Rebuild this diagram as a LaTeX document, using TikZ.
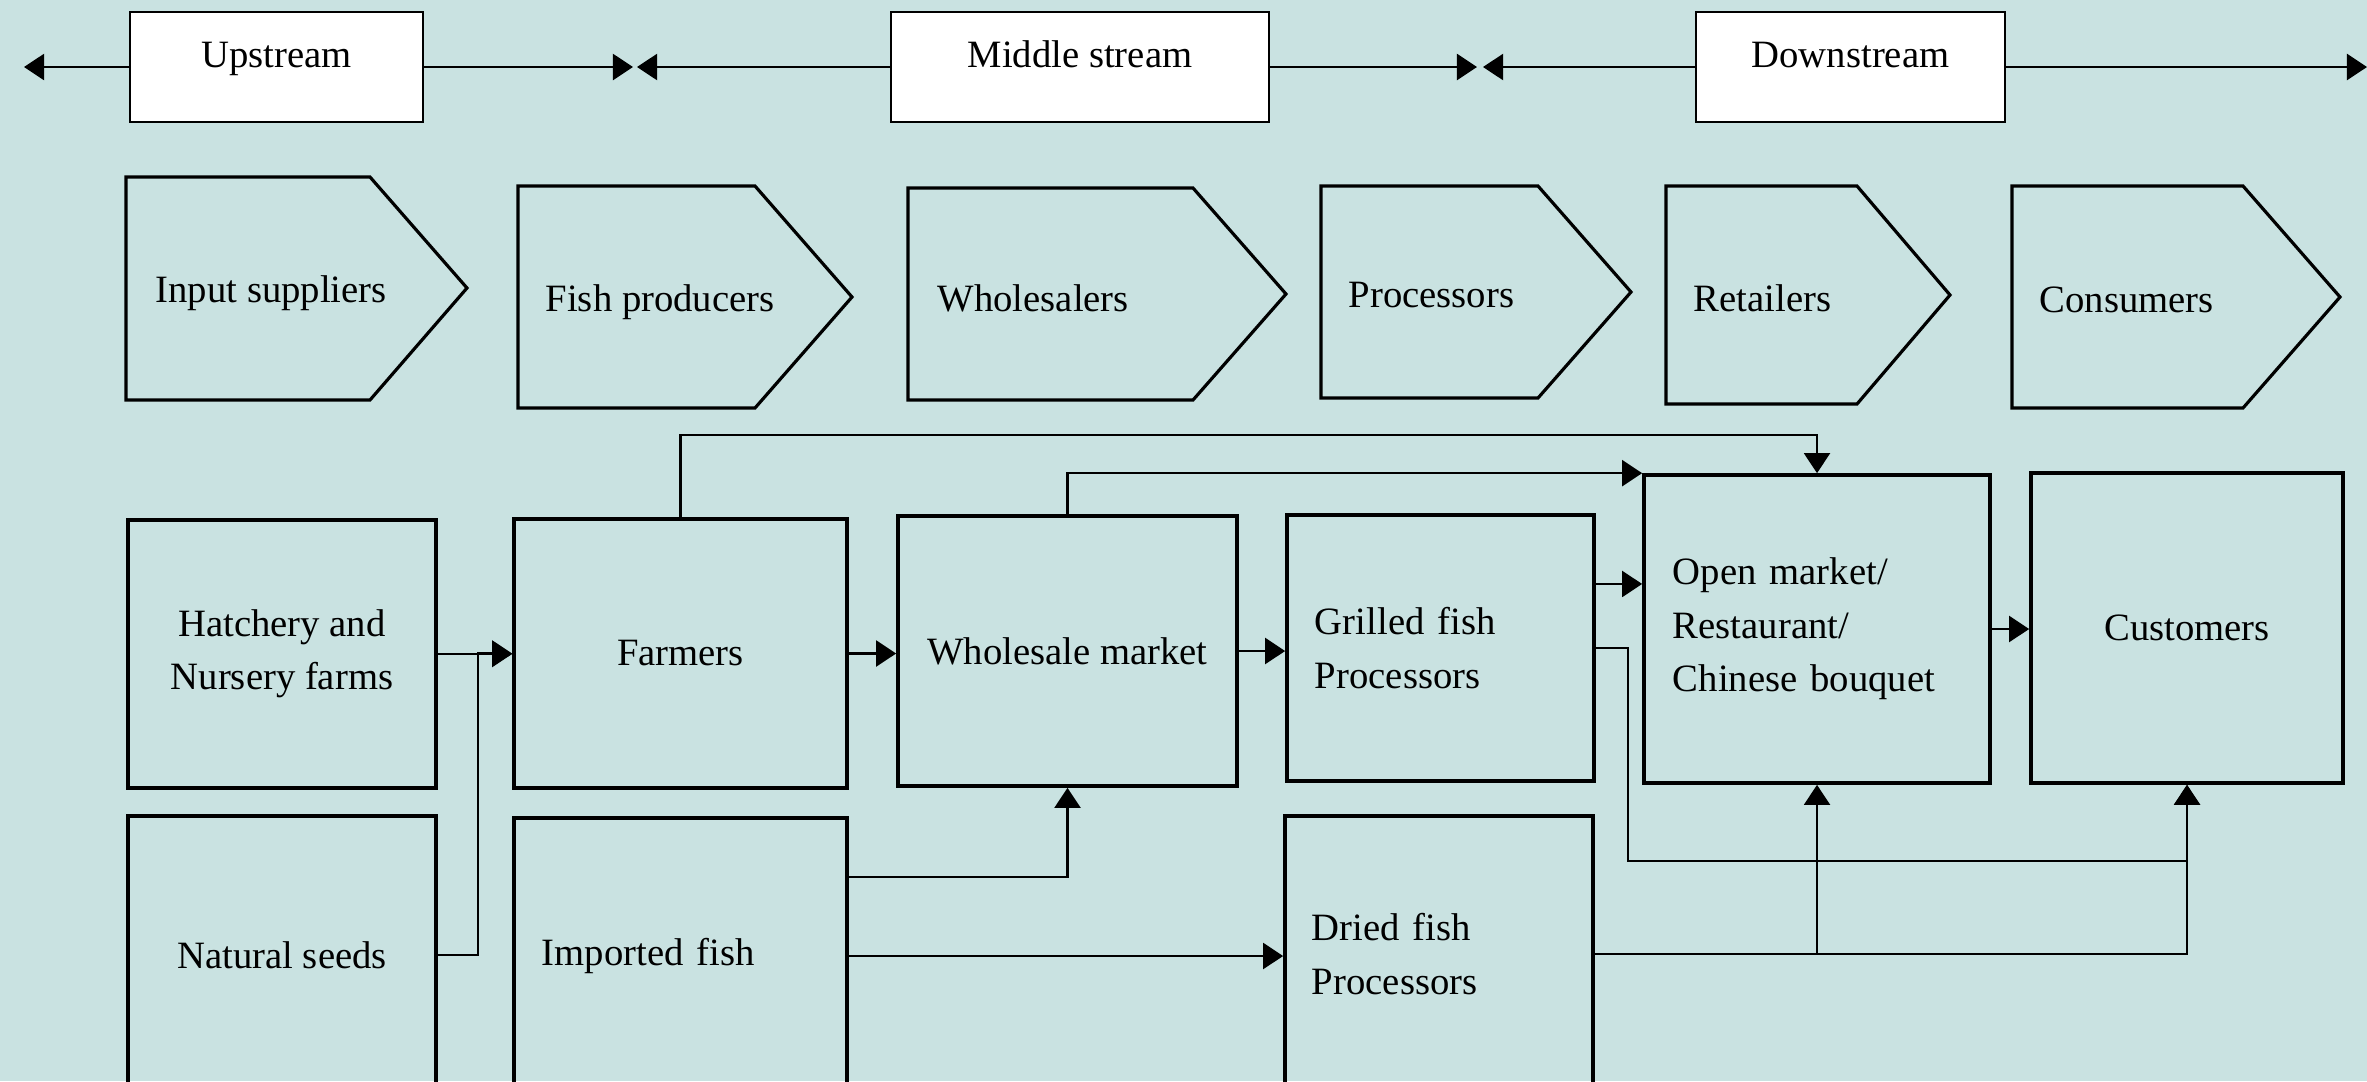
\documentclass[tikz,border=0pt]{standalone}
\usepackage{fontspec}
\setmainfont{Liberation Serif}
\usetikzlibrary{arrows.meta,positioning}
\definecolor{seafoam}{HTML}{C9E2E1}

\begin{document}
\begin{tikzpicture}[x=0.01cm, y=-0.01cm,
    font=\fontsize{11}{15.2}\selectfont,
    headbox/.style={draw, line width=0.6pt, fill=white, inner sep=0pt,
        minimum height=1.1cm, text height=0.55cm, text depth=0.55cm},
    chainbox/.style={draw, line width=1pt, inner sep=0pt},
    chev/.style={draw, line width=0.9pt},
    lbl/.style={inner sep=0pt, anchor=west},
    conn/.style={line width=0.6pt, -{Triangle[length=5.7pt, width=7.4pt]}}
]
    \useasboundingbox (0,0) rectangle (2367,1081);
    \clip (0,0) rectangle (2367,1081);
    \fill[seafoam] (0,0) rectangle (2367,1081);

    % Stream bar
    \node[headbox, minimum width=2.93cm] (up) at (276.5,67) {Upstream};
    \node[headbox, minimum width=3.78cm] (mid) at (1080,67) {Middle stream};
    \node[headbox, minimum width=3.09cm] (down) at (1850.5,67) {Downstream};

    \coordinate (farleft) at (24,67);
    \coordinate (upend) at (633,67);
    \coordinate (midstart) at (637,67);
    \coordinate (midend) at (1477,67);
    \coordinate (downstart) at (1483,67);
    \coordinate (farright) at (2367,67);

    \draw[conn] (up.west) -- (farleft);
    \draw[conn] (up.east) -- (upend);
    \draw[conn] (mid.west) -- (midstart);
    \draw[conn] (mid.east) -- (midend);
    \draw[conn] (down.west) -- (downstart);
    \draw[conn] (down.east) -- (farright);

    % Actors
    \draw[chev] (126,177) -- (370,177) -- (467,288) -- (370,400) -- (126,400) -- cycle;
    \node[lbl] (inputs) at (155,293) {Input suppliers};
    \draw[chev] (518,186) -- (755,186) -- (852,297) -- (755,408) -- (518,408) -- cycle;
    \node[lbl] (producers) at (545,302) {Fish producers};
    \draw[chev] (908,188) -- (1193,188) -- (1286,294) -- (1193,400) -- (908,400) -- cycle;
    \node[lbl] (wholesalers) at (937,298) {Wholesalers};
    \draw[chev] (1321,186) -- (1538,186) -- (1631,292) -- (1538,398) -- (1321,398) -- cycle;
    \node[lbl] (processors) at (1348,295) {Processors};
    \draw[chev] (1666,186) -- (1857,186) -- (1950,295) -- (1857,404) -- (1666,404) -- cycle;
    \node[lbl] (retailers) at (1693,298) {Retailers};
    \draw[chev] (2012,186) -- (2243,186) -- (2340,297) -- (2243,408) -- (2012,408) -- cycle;
    \node[lbl] (consumers) at (2039,300) {Consumers};

    % Chain boxes
    \node[chainbox, minimum width=3.08cm, minimum height=2.68cm, align=center] (hatch) at (282,654) {Hatchery and\\Nursery farms};
    \node[chainbox, minimum width=3.33cm, minimum height=2.69cm] (farm) at (680.5,653.5) {Farmers};
    \node[chainbox, minimum width=3.39cm, minimum height=2.70cm] (whole) at (1067.5,651) {Wholesale market};
    \node[chainbox, minimum width=3.07cm, minimum height=2.66cm, text width=2.51cm, align=left] (grill) at (1440.5,648) {Grilled fish\\Processors};
    \node[chainbox, minimum width=3.46cm, minimum height=3.08cm, text width=2.88cm, align=left] (open) at (1817,629) {Open market/\\Restaurant/\\Chinese bouquet};
    \node[chainbox, minimum width=3.12cm, minimum height=3.10cm] (cust) at (2187,628) {Customers};

    \node[chainbox, minimum width=3.08cm, minimum height=2.78cm] (nat) at (282,955) {Natural seeds};
    \node[chainbox, minimum width=3.33cm, minimum height=2.76cm, text width=2.77cm, align=left] (imp) at (680.5,956) {Imported fish};
    \node[chainbox, minimum width=3.08cm, minimum height=2.76cm, text width=2.54cm, align=left] (dried) at (1439,954) {Dried fish\\Processors};

    % Flows
    \draw[conn] (hatch.east) -- (hatch.east -| farm.west);
    \draw[conn] (nat.east) -- ++(40,0) |- (farm.west);
    \draw[conn] (farm.east) -- (farm.east -| whole.west);
    \draw[conn] (whole.east) -- (whole.east -| grill.west);
    \draw[conn] (farm.north) -- ++(0,-82) -| (open.north);
    \draw[conn] (whole.north) |- (open.north west);
    \draw[conn] ([yshift=0.64cm]grill.east) -- ([yshift=0.64cm]grill.east -| open.west);
    \draw[conn] (open.east) -- (open.east -| cust.west);
    \draw[conn] (grill.east) -- ++(32,0) -- ++(0,213) -| (cust.south);
    \draw[conn] ([yshift=0.79cm]imp.east) -| (whole.south);
    \draw[conn] (imp.east) -- (imp.east -| dried.west);
    \draw[conn] (dried.east) -| (open.south);
    \draw[conn] (dried.east) -| (cust.south);
\end{tikzpicture}
\end{document}
